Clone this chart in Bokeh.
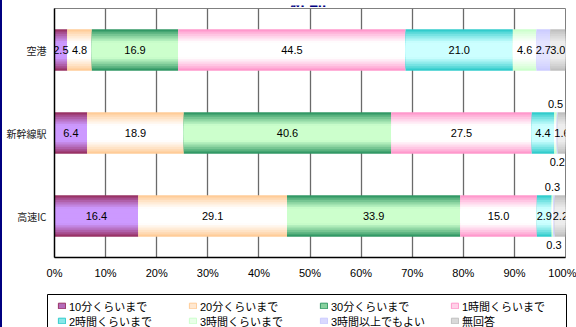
from bokeh.plotting import figure
from bokeh.layouts import column
from bokeh.models import (ColumnDataSource, FactorRange, Range1d, FixedTicker,
                          PrintfTickFormatter, Legend, LegendItem, InlineStyleSheet)
from bokeh.core.properties import value
from bokeh.embed import file_html
from bokeh.resources import INLINE

# ---- data ----
categories = ["空港", "新幹線駅", "高速IC"]
series = ["10分くらいまで", "20分くらいまで", "30分くらいまで", "1時間くらいまで",
          "2時間くらいまで", "3時間くらいまで", "3時間以上でもよい", "無回答"]
v_airport = [2.5, 4.8, 16.9, 44.5, 21.0, 4.6, 2.7, 3.0]
v_shinkansen = [6.4, 18.9, 40.6, 27.5, 4.4, 0.5, 0.2, 1.6]
v_highway_ic = [16.4, 29.1, 33.9, 15.0, 2.9, 0.3, 0.3, 2.2]
x_ticks = [0, 10, 20, 30, 40, 50, 60, 70, 80, 90, 100]
title_text = "性別"

# ---- style ----
edge_colors = ["#993366", "#FFCC99", "#339966", "#FF99CC",
               "#33CCCC", "#CCFFCC", "#CCCCFF", "#C0C0C0"]
center_colors = ["#CC99FF", "#FFFFFF", "#CCFFCC", "#FFFFFF",
                 "#CCFFFF", "#FFFFFF", "#E4E4FF", "#EDEDED"]
NUM_FONT = value("Liberation Sans")
JP_FONT = "Noto Sans CJK JP"
W = 574


def hex2rgb(h):
    h = h.lstrip("#")
    return tuple(int(h[i:i + 2], 16) for i in (0, 2, 4))


def mix(c1, c2, t):
    a, b = hex2rgb(c1), hex2rgb(c2)
    return "#%02x%02x%02x" % tuple(int(round(x + (y - x) * t)) for x, y in zip(a, b))


def no_align(f):
    try:
        f.frame_align = False
    except Exception:
        pass


def blank_fig(h):
    f = figure(width=W, height=h, output_backend="svg", toolbar_location=None,
               x_range=Range1d(0, W), y_range=Range1d(0, h),
               x_axis_type=None, y_axis_type=None,
               min_border_left=0, min_border_right=0, min_border_top=0, min_border_bottom=0)
    f.grid.visible = False
    f.outline_line_color = None
    f.background_fill_color = "white"
    f.border_fill_color = "white"
    no_align(f)
    return f


rows = [v_airport, v_shinkansen, v_highway_ic]

# ---- title strip (title is cut off at the top, as in the reference) ----
TITLE_H = 7
pt = blank_fig(TITLE_H)
pt.text(x=[306], y=[TITLE_H - 1], text=[title_text], text_align="center",
        text_baseline="alphabetic", text_font=value(JP_FONT), text_font_style="bold",
        text_font_size="18px", text_color="#000080")

# ---- main chart ----
MAIN_H = 280
p = figure(width=W, height=MAIN_H, output_backend="svg", toolbar_location=None,
           y_range=FactorRange(factors=list(reversed(categories)), range_padding=0),
           x_range=Range1d(0, 100),
           min_border_left=52, min_border_right=11, min_border_top=8 - TITLE_H,
           min_border_bottom=MAIN_H - (257 - TITLE_H))
no_align(p)
p.background_fill_color = "white"
p.border_fill_color = "white"
p.outline_line_color = "#808080"
p.outline_line_width = 1

BAR_H = 0.5
N_LAYERS = 9
label_x, label_y, label_t, label_off = [], [], [], []
for i, name in enumerate(series):
    lefts, rights = [], []
    for ci, row in enumerate(rows):
        left = sum(row[:i])
        right = left + row[i]
        lefts.append(left)
        rights.append(right)
        label_x.append((left + right) / 2)
        label_y.append(categories[ci])
        label_t.append("%.1f" % row[i])
        if row[i] < 1 and i == 5:
            label_off.append(-29)
        elif row[i] < 1 and i == 6:
            label_off.append(29)
        else:
            label_off.append(0)
    src = ColumnDataSource(data=dict(y=categories, left=lefts, right=rights))
    for k in range(N_LAYERS):
        t = k / (N_LAYERS - 1)
        m = min(1.0, (t / 0.65) ** 0.85)
        p.hbar(y="y", left="left", right="right", height=BAR_H * (1 - k / N_LAYERS),
               source=src, fill_color=mix(edge_colors[i], center_colors[i], m),
               line_color=None)

lab_src = ColumnDataSource(data=dict(x=label_x, y=label_y, t=label_t, off=label_off))
p.text(x="x", y="y", text="t", y_offset="off", source=lab_src,
       text_align="center", text_baseline="middle", text_font=NUM_FONT,
       text_font_size="11px", text_color="black")

p.xaxis.ticker = FixedTicker(ticks=x_ticks)
p.xaxis.formatter = PrintfTickFormatter(format="%d%%")
p.xaxis.major_label_text_font = "Liberation Sans"
p.xaxis.major_label_text_font_size = "11px"
p.xaxis.major_label_text_color = "black"
p.xaxis.major_tick_in = 0
p.xaxis.major_tick_out = 0
p.xaxis.minor_tick_line_color = None
p.xaxis.major_label_standoff = 9
p.xaxis.axis_line_color = "black"
p.xaxis.axis_line_width = 1.5

p.yaxis.major_label_text_font = JP_FONT
p.yaxis.major_label_text_font_size = "10px"
p.yaxis.major_label_text_color = "#222222"
p.yaxis.major_tick_in = 0
p.yaxis.major_tick_out = 0
p.yaxis.major_label_standoff = 8
p.yaxis.axis_line_color = "black"
p.yaxis.axis_line_width = 1.5

p.xgrid.grid_line_color = "#6a6a6a"
p.xgrid.grid_line_width = 1.3
p.ygrid.grid_line_color = None

# ---- legend strip ----
LEG_H = 327 - TITLE_H - MAIN_H
pl = blank_fig(LEG_H)
# legend frame (its bottom edge runs off the page, as in the reference)
pl.quad(left=[45], right=[564], bottom=[-6], top=[LEG_H - 7],
        fill_color="white", line_color="black", line_width=1)

row_items = [[], []]
for i, name in enumerate(series):
    proxy = ColumnDataSource(data=dict(x=[-100], y=[-100]))
    r = pl.rect(x="x", y="y", width=1, height=1, source=proxy,
                fill_color=mix(edge_colors[i], center_colors[i], 0.55),
                line_color=edge_colors[i], line_width=1)
    row_items[i // 4].append(LegendItem(label=name, renderers=[r]))

ROW_H = 17
row_centers = [LEG_H - 18, LEG_H - 33]
for items, cy in zip(row_items, row_centers):
    lg = Legend(items=items, orientation="horizontal",
                location=(55, cy - ROW_H / 2))
    lg.label_text_font = "Liberation Sans, Noto Sans CJK JP"
    lg.label_text_font_size = "11px"
    lg.label_text_color = "black"
    lg.glyph_width = 9
    lg.glyph_height = 7
    lg.label_standoff = 3
    lg.label_height = 13
    lg.label_width = 116
    lg.spacing = 3
    lg.padding = 0
    lg.margin = 0
    lg.border_line_color = None
    lg.background_fill_alpha = 0
    pl.add_layout(lg, "center")

layout = column(pt, p, pl, spacing=0)
layout.stylesheets = [InlineStyleSheet(css=":host { border-left: 2px solid #000080; }")]
open("out.html", "w").write(file_html(layout, INLINE))
